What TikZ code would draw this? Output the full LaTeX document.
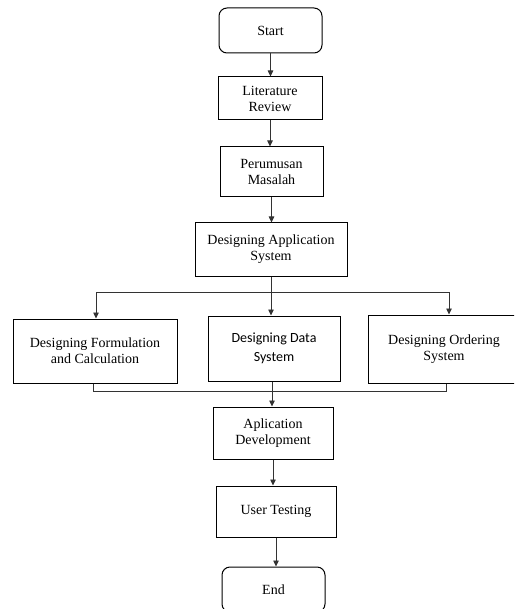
\documentclass[tikz,border=0pt]{standalone}
\usepackage{fontspec}
\setmainfont{Liberation Serif}
\newfontfamily\calib{Carlito}
\usetikzlibrary{arrows.meta}
\tikzset{
  box/.style={draw=black,line width=1pt,align=center,inner sep=1pt,
    font=\fontsize{14}{16}\selectfont},
  term/.style={box,rounded corners=8pt},
  arr/.style={line width=0.8pt,draw=black!80,-{Triangle[length=6pt,width=5.5pt]}},
  ln/.style={line width=0.8pt,draw=black!80}
}
\begin{document}
\begin{tikzpicture}[x=1pt,y=-1pt]
\useasboundingbox (0,0) rectangle (514,609);
\clip (0,0) rectangle (514,609);
\node[term,minimum width=103pt,minimum height=45pt] (start) at (270.5,30.5) {Start};
\node[box,minimum width=104pt,minimum height=43pt] (lit) at (270,98.5) {Literature\\Review};
\node[box,minimum width=103pt,minimum height=50pt] (perm) at (271.5,172) {Perumusan\\Masalah};
\node[box,minimum width=152pt,minimum height=53pt] (das) at (271,249.5) {Designing Application\\System};
\node[box,minimum width=164pt,minimum height=64pt] (dfc) at (95,351) {Designing Formulation\\and Calculation};
\node[box,minimum width=132pt,minimum height=65pt,font=\calib\fontsize{14}{19}\selectfont] (dds) at (274,348.5) {Designing Data\\System};
\node[box,minimum width=152pt,minimum height=68pt] (dos) at (444,349) {Designing Ordering\\System};
\node[box,minimum width=120pt,minimum height=52pt] (ad) at (273,433) {Aplication\\Development};
\node[box,minimum width=120pt,minimum height=51pt] (ut) at (276,511.5) {User Testing};
\node[term,minimum width=103pt,minimum height=45pt] (end) at (273.5,589.5) {End};

\draw[arr] (start.south) -- (start.south |- lit.north);
\draw[arr] (lit.south) -- (lit.south |- perm.north);
\draw[arr] (perm.south) -- (perm.south |- das.north);

\coordinate (sp) at (271,292);
\coordinate (spl) at (96,292);
\coordinate (spr) at (449,292);
\draw[ln] (das.south) -- (sp);
\draw[ln] (spl) -- (spr);
\draw[arr] (spl) -- (spl |- dfc.north);
\draw[arr] (sp) -- (sp |- dds.north);
\draw[arr] (spr) -- (spr |- dos.north);

\coordinate (ml) at (93,391);
\coordinate (mr) at (446,391);
\coordinate (mc) at (272,391);
\draw[ln] (ml |- dfc.south) -- (ml) -- (mr) -- (mr |- dos.south);
\draw[arr] (mc |- dds.south) -- (mc |- ad.north);

\draw[arr] (ad.south) -- (ad.south |- ut.north);
\draw[arr] (ut.south) -- (ut.south |- end.north);
\end{tikzpicture}
\end{document}
